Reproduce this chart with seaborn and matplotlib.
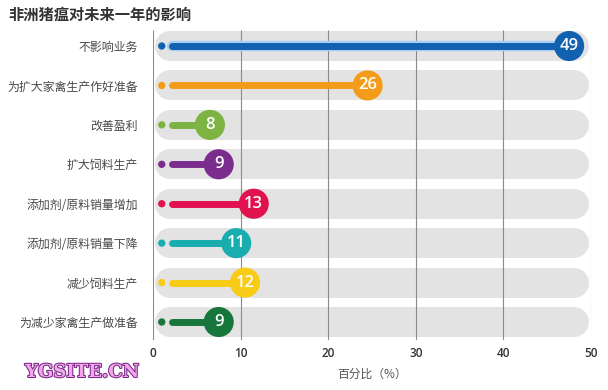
import matplotlib
matplotlib.use('Agg')
import matplotlib.pyplot as plt
import matplotlib.patheffects as pe
import seaborn as sns
import pandas as pd

categories = ["不影响业务", "为扩大家禽生产作好准备", "改善盈利", "扩大饲料生产",
              "添加剂/原料销量增加", "添加剂/原料销量下降", "减少饲料生产", "为减少家禽生产做准备"]
values = [49, 26, 8, 9, 13, 11, 12, 9]
colors = ["#1261b1", "#f39c1a", "#7cb342", "#7b2d8e", "#e0134f", "#19adb0", "#f7cb16", "#17763c"]
x_ticks = [0, 10, 20, 30, 40, 50]
title = "非洲猪瘟对未来一年的影响"
xlabel = "百分比（%）"
watermark = "YGSITE.CN"

sns.set_theme(style="white")
plt.rcParams['font.family'] = ['Noto Sans CJK SC', 'DejaVu Sans']

fig = plt.figure(figsize=(6.08, 3.9), dpi=100)
ax = fig.add_axes([153 / 608, 1 - 340 / 390, (591 - 153) / 608, 310 / 390])

offset = 1.5  # circle sits so its right edge touches the value
df = pd.DataFrame({"cat": categories, "value": values, "color": colors})
df["center"] = df["value"] - offset
df["dot"] = 1.0
df["start"] = 2.2

n = len(categories)
# background rounded bands
for i in range(n):
    ax.plot([1.95, 48.1], [i, i], lw=21.6, color="#e3e3e3",
            solid_capstyle="round", zorder=1)

# gridlines
ax.vlines(x_ticks, -0.406, 7.456, color="#8a8a8a", lw=0.8, zorder=2)

# colored stems
for i, r in df.iterrows():
    effects = None
    if i == 0:
        effects = [pe.Stroke(linewidth=7.5, foreground="#a8cff0"), pe.Normal()]
    ax.plot([r["start"], r["center"]], [i, i], lw=5, color=r["color"],
            solid_capstyle="round", zorder=3, path_effects=effects)

sns.scatterplot(data=df, x="dot", y="cat", hue="cat", palette=colors,
                s=28, legend=False, ax=ax, zorder=3, linewidth=0)
sns.scatterplot(data=df, x="center", y="cat", hue="cat", palette=colors,
                s=470, legend=False, ax=ax, zorder=4, linewidth=0)

for i, r in df.iterrows():
    ax.text(r["center"], i, str(r["value"]), color="white", ha="center",
            va="center", fontsize=12, fontweight="semibold",
            family=["Open Sans", "DejaVu Sans"], zorder=5)

ax.set_xlim(0, 50)
ax.set_ylim(7.456, -0.406)
ax.set_xticks(x_ticks)
ax.set_xticklabels([str(t) for t in x_ticks], color="#333333", fontsize=8.5,
                   fontweight="semibold", family=["Open Sans", "DejaVu Sans"])
ax.set_yticks(range(n))
ax.set_yticklabels(categories, color="#4a4a4a", fontsize=8.6)
ax.tick_params(axis="y", length=0, pad=11)
ax.tick_params(axis="x", length=0, pad=5)
ax.set_xlabel(xlabel, fontsize=8.5, color="#555555", labelpad=6)
ax.set_ylabel("")
for s in ax.spines.values():
    s.set_visible(False)

fig.text(8 / 608, 1 - 15 / 390, title, fontsize=11, fontweight="bold",
         color="#333333", va="center", ha="left")
fig.text(25 / 608, 1 - 372 / 390, watermark, fontsize=13, fontweight="bold",
         color="#f2a6ee", family=["DejaVu Serif"], va="center", ha="left",
         path_effects=[pe.Stroke(linewidth=1.5, foreground="#7a2a86"), pe.Normal()])

fig.savefig("out.png", dpi=100)
